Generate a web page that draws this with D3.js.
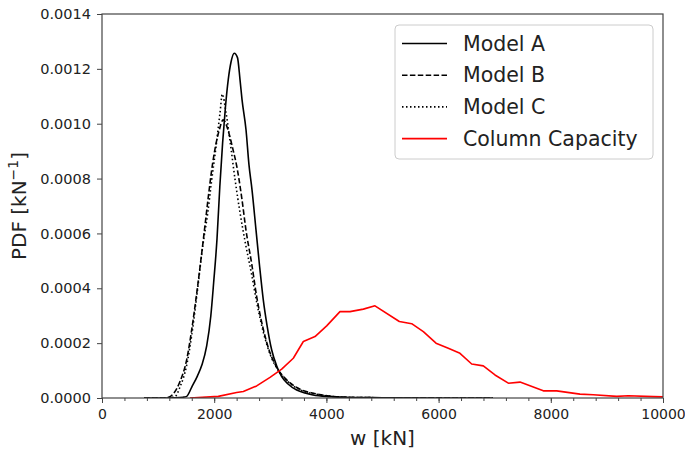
<!DOCTYPE html>
<meta charset="utf-8">
<style>
body { margin: 0; background: #fff; }
text { font-family: "DejaVu Sans", sans-serif; fill: #222; }
.tick line { stroke: #444; }
.domain { display: none; }
.spine { fill: none; stroke: #444; stroke-width: 1.2px; }
.curve { fill: none; stroke-width: 1.6px; stroke-linejoin: round; }
</style>
<body>
<script src="https://cdn.jsdelivr.net/npm/d3@7/dist/d3.min.js"></script>
<script>

var width = 685,
    height = 455,
    margin = {top: 14, right: 22, bottom: 57, left: 102};

// Model A (solid)
var modelA_w   = [750, 1000, 1300, 1450, 1510, 1600, 1700, 1780, 1866, 1940, 1990, 2050, 2100, 2150, 2200, 2250, 2300, 2358, 2415, 2460, 2496, 2567, 2620, 2674, 2745, 2807, 2875, 2941, 3025, 3114, 3203, 3316, 3471, 3619, 3761, 4064, 4420, 5000, 6000, 6970];
var modelA_pdf = [0, 0, 0.000001, 0.000003, 0.000006, 0.00004, 0.00008, 0.00012, 0.00019, 0.0003, 0.00042, 0.00058, 0.00077, 0.00093, 0.00106, 0.00116, 0.001225, 0.001257, 0.001241, 0.001161, 0.001088, 0.000978, 0.00085, 0.000759, 0.000613, 0.000485, 0.000358, 0.000266, 0.000175, 0.000117, 0.000078, 0.000051, 0.000029, 0.000018, 0.000011, 0.000005, 0.000002, 0.000001, 0, 0];

// Model B (dashed)
var modelB_w   = [750, 1100, 1200, 1270, 1390, 1510, 1600, 1700, 1825, 1896, 1974, 2091, 2160, 2270, 2330, 2402, 2491, 2568, 2668, 2757, 2876, 2995, 3114, 3292, 3530, 3827, 4100, 4500, 5000, 6970];
var modelB_pdf = [0, 0, 0.000004, 0.000015, 0.00006, 0.00014, 0.00025, 0.0004, 0.00061, 0.000735, 0.000858, 0.000978, 0.001014, 0.00096, 0.00091, 0.000845, 0.00073, 0.00061, 0.00049, 0.00037, 0.00025, 0.000165, 0.000112, 0.000066, 0.000032, 0.000015, 0.000006, 0.000002, 0.000001, 0];

// Model C (dotted)
var modelC_w   = [750, 1150, 1300, 1390, 1510, 1600, 1700, 1800, 1885, 1956, 2033, 2104, 2144, 2211, 2295, 2372, 2461, 2560, 2668, 2757, 2876, 2995, 3114, 3292, 3530, 3827, 4100, 4500, 5000, 6970];
var modelC_pdf = [0, 0, 0.000005, 0.00004, 0.00012, 0.00023, 0.00039, 0.00056, 0.000675, 0.000796, 0.000917, 0.00104, 0.001108, 0.00104, 0.000917, 0.000796, 0.000675, 0.00056, 0.00045, 0.00035, 0.00024, 0.00016, 0.00011, 0.000064, 0.00003, 0.000014, 0.000006, 0.000002, 0.000001, 0];

// Column Capacity (red)
var capacity_w   = [1569, 2073, 2400, 2519, 2757, 2995, 3203, 3410, 3589, 3797, 4005, 4242, 4421, 4659, 4866, 5300, 5520, 5728, 5954, 6173, 6381, 6590, 6797, 7005, 7243, 7451, 7866, 8105, 8520, 8757, 9174, 9382, 9828, 10000];
var capacity_pdf = [0, 0.000006, 0.00002, 0.000024, 0.000044, 0.000075, 0.000105, 0.000145, 0.000206, 0.000224, 0.000263, 0.000315, 0.000315, 0.000324, 0.000336, 0.000279, 0.000271, 0.000242, 0.0002, 0.000181, 0.000163, 0.000124, 0.000117, 0.000084, 0.000054, 0.000058, 0.000026, 0.000026, 0.000014, 0.000012, 0.000006, 0.000008, 0.000005, 0.000004];

var xTicks = [0, 2000, 4000, 6000, 8000, 10000];
var xMinor = d3.range(0, 10001, 400);
var yTicks = [0, 0.0002, 0.0004, 0.0006, 0.0008, 0.0010, 0.0012, 0.0014];

var series = [
  {name: "Model A", w: modelA_w, pdf: modelA_pdf, color: "#000", dash: null},
  {name: "Model B", w: modelB_w, pdf: modelB_pdf, color: "#000", dash: "5.5,2.4"},
  {name: "Model C", w: modelC_w, pdf: modelC_pdf, color: "#000", dash: "1.5,2.5"},
  {name: "Column Capacity", w: capacity_w, pdf: capacity_pdf, color: "#ff0000", dash: null, linear: true}
];

var svg = d3.select("body").append("svg")
    .attr("width", width)
    .attr("height", height);

var iw = width - margin.left - margin.right,
    ih = height - margin.top - margin.bottom;

var x = d3.scaleLinear().domain([0, 10000]).range([0, iw]);
var y = d3.scaleLinear().domain([0, 0.0014]).range([ih, 0]);

var g = svg.append("g").attr("transform", "translate(" + margin.left + "," + margin.top + ")");

g.append("defs").append("clipPath").attr("id", "clip")
  .append("rect").attr("width", iw).attr("height", ih);

// minor x ticks
g.append("g")
    .attr("transform", "translate(0," + ih + ")")
    .call(d3.axisBottom(x).tickValues(xMinor).tickSize(3).tickFormat(""));

g.append("g")
    .attr("transform", "translate(0," + ih + ")")
    .call(d3.axisBottom(x).tickValues(xTicks).tickSize(5).tickPadding(6).tickFormat(d3.format("d")))
    .selectAll("text").style("font-size", "14px");

g.append("g")
    .call(d3.axisLeft(y).tickValues(yTicks).tickSize(5).tickPadding(6).tickFormat(d3.format(".4f")))
    .selectAll("text").style("font-size", "14.5px");

var lines = g.append("g").attr("clip-path", "url(#clip)");

series.forEach(function(s) {
  var pts = s.w.map(function(w, i) { return [w, s.pdf[i]]; });
  var line = d3.line()
      .x(function(d) { return x(d[0]); })
      .y(function(d) { return y(d[1]); })
      .curve(s.linear ? d3.curveLinear : d3.curveMonotoneX);
  lines.append("path")
      .datum(pts)
      .attr("class", "curve")
      .attr("stroke", s.color)
      .attr("stroke-dasharray", s.dash)
      .attr("d", line);
});

g.append("rect").attr("class", "spine").attr("width", iw).attr("height", ih);

// axis labels
svg.append("text")
    .attr("x", margin.left + iw / 2)
    .attr("y", 445)
    .attr("text-anchor", "middle")
    .style("font-size", "20px")
    .text("w [kN]");

var yl = svg.append("text")
    .attr("transform", "translate(26," + (margin.top + ih / 2) + ") rotate(-90)")
    .attr("text-anchor", "middle")
    .style("font-size", "20px");
yl.append("tspan").text("PDF [kN");
yl.append("tspan").attr("dy", -8).style("font-size", "14px").text("\u22121");
yl.append("tspan").attr("dy", 8).text("]");

// legend
var leg = svg.append("g").attr("transform", "translate(395,25)");
leg.append("rect")
    .attr("width", 258).attr("height", 134)
    .attr("rx", 4)
    .attr("fill", "#fff").attr("fill-opacity", 0.8)
    .attr("stroke", "#ccc");

series.forEach(function(s, i) {
  var row = leg.append("g").attr("transform", "translate(0," + (18.5 + i * 31.7) + ")");
  row.append("line")
      .attr("x1", 7).attr("x2", 52)
      .attr("stroke", s.color)
      .attr("stroke-width", 1.6)
      .attr("stroke-dasharray", s.dash);
  row.append("text")
      .attr("x", 68).attr("dy", "0.35em")
      .style("font-size", "20.5px")
      .text(s.name);
});

</script>
